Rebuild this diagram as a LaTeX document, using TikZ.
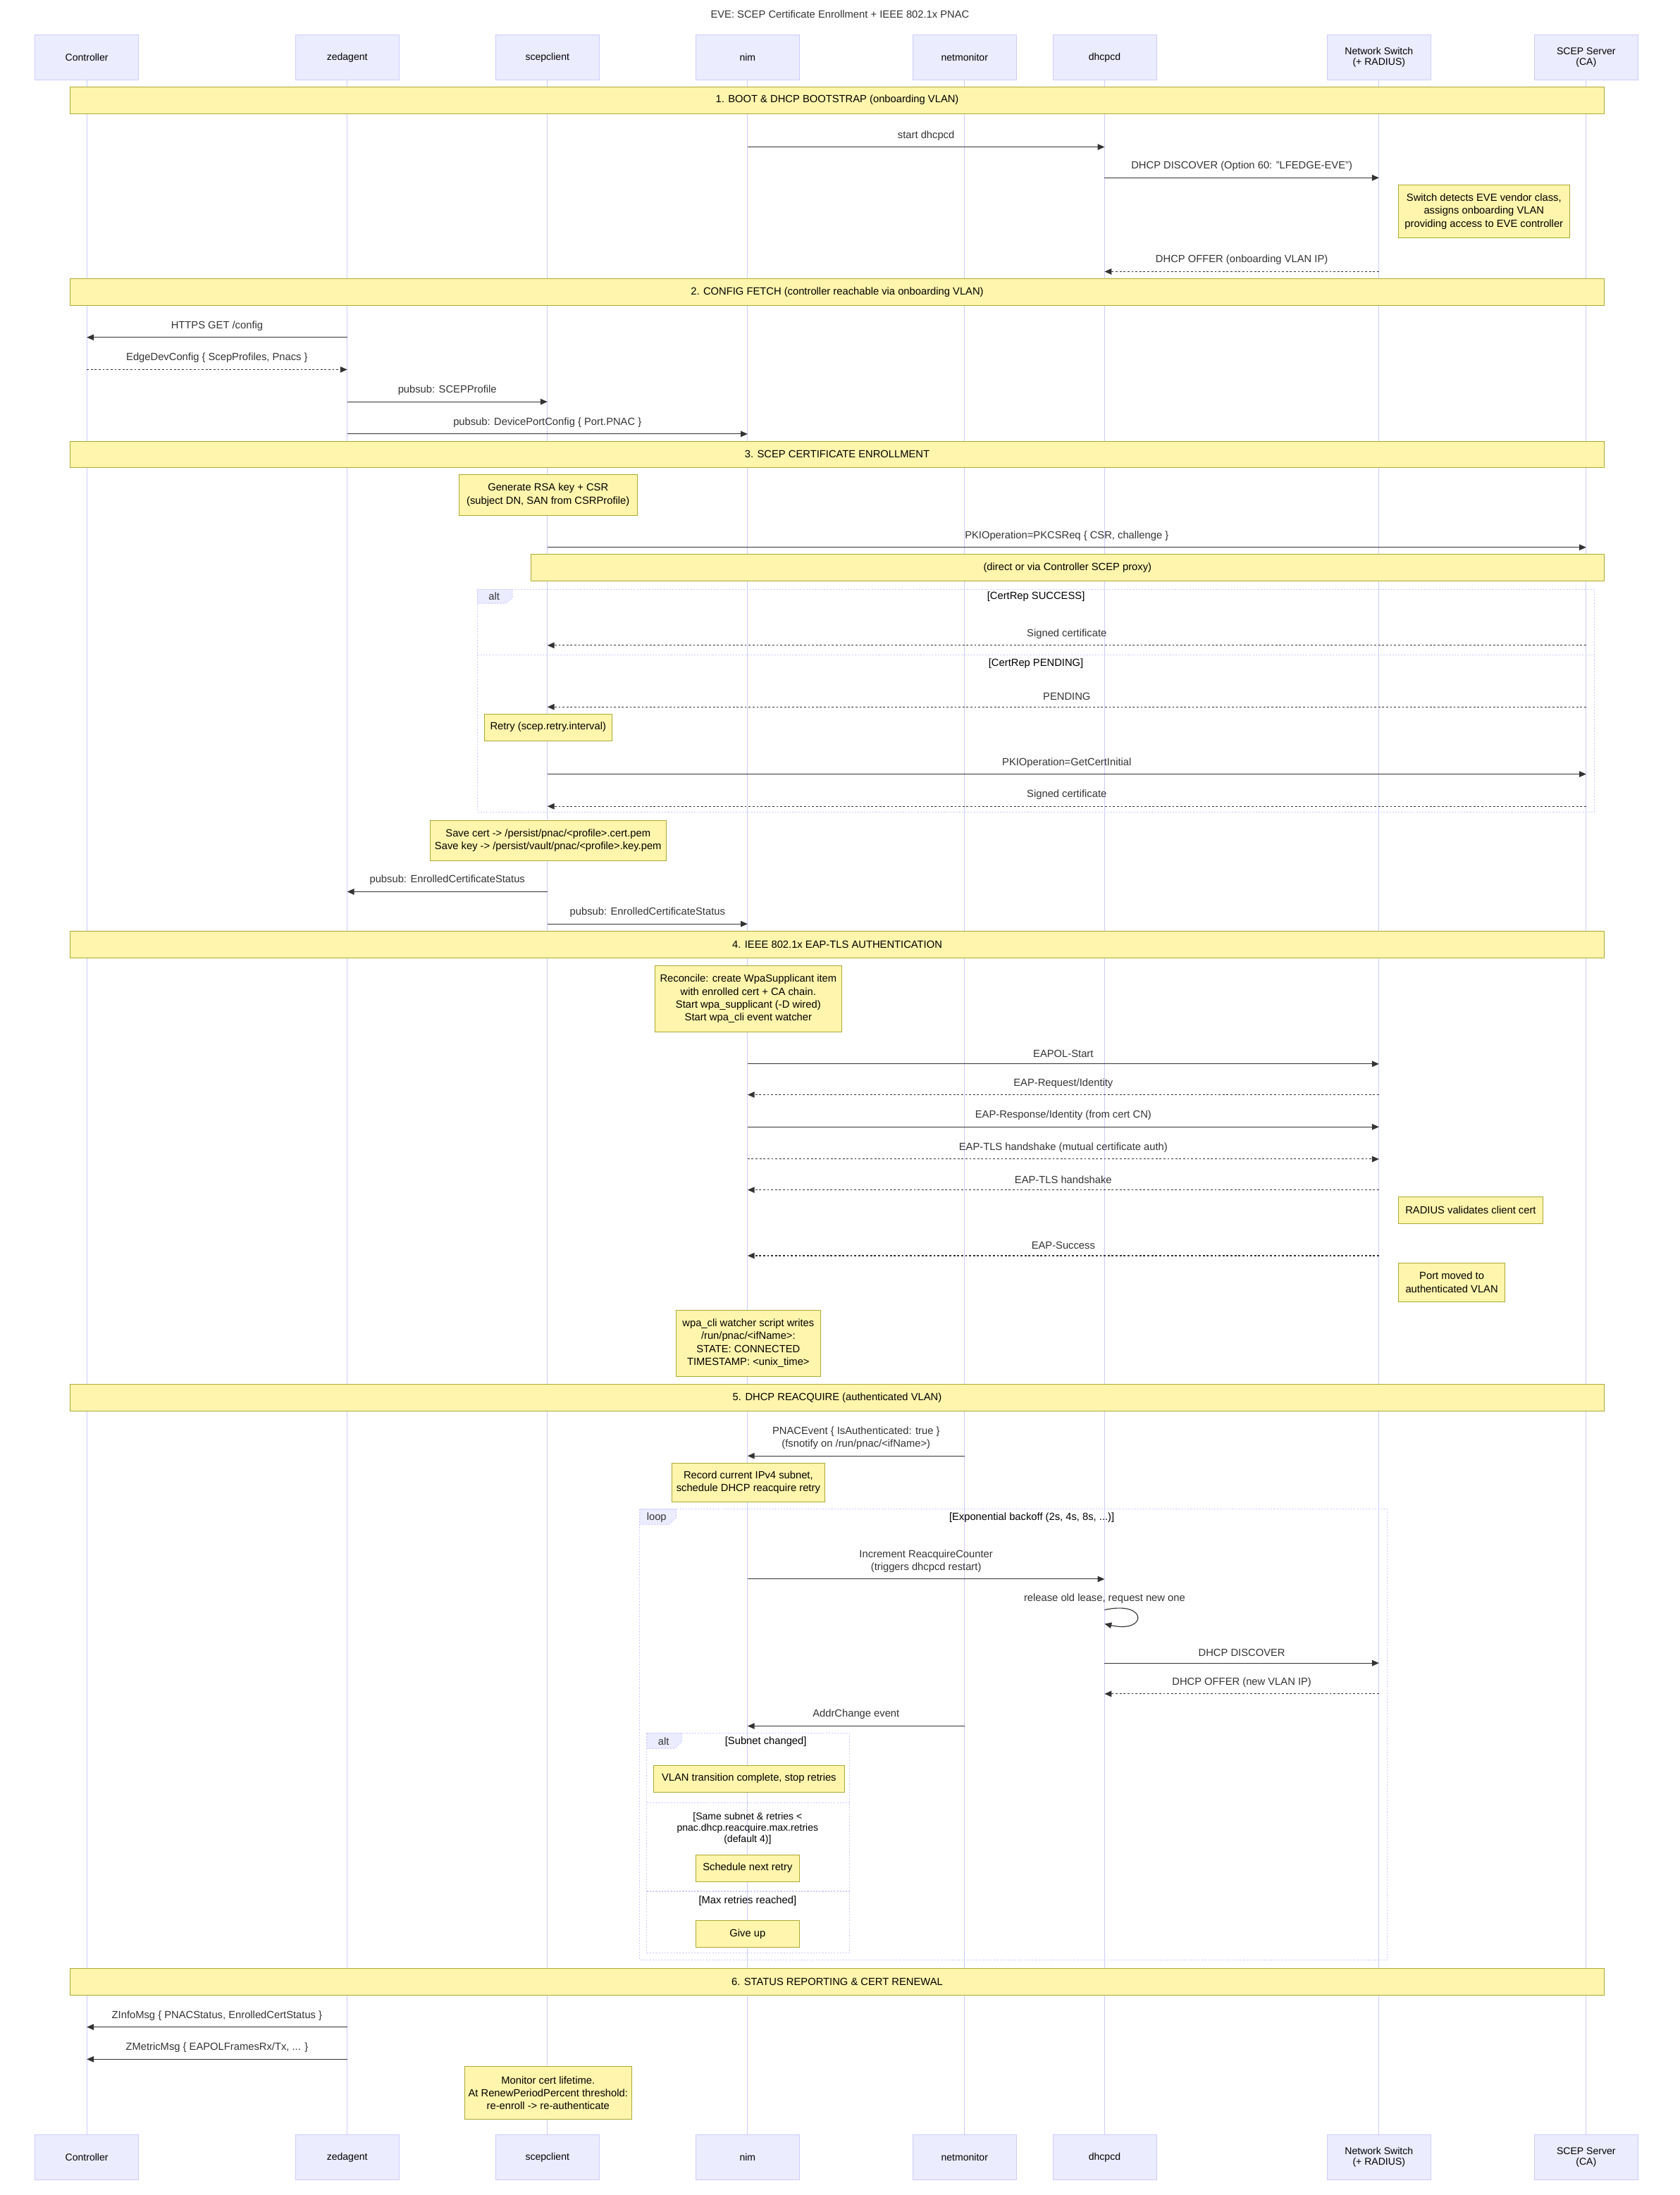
\documentclass[tikz,border=0pt]{standalone}
\usepackage{fontspec}
\setmainfont{Liberation Sans}
\usetikzlibrary{arrows.meta, fit}
\definecolor{actorfill}{HTML}{ECECFF}
\definecolor{actorline}{HTML}{CCCCFF}
\definecolor{notefill}{HTML}{FFF5AD}
\definecolor{noteline}{HTML}{AAAA33}
\definecolor{msgline}{HTML}{333333}

\begin{document}
\begin{tikzpicture}[x=0.0497cm, y=-0.0497cm,
    font=\fontsize{10.5}{13}\selectfont,
    actor/.style={draw=actorline, fill=actorfill, inner sep=0pt, align=center},
    life/.style={draw=actorline, line width=0.7pt},
    note/.style={draw=noteline, fill=notefill, inner sep=0pt},
    msg/.style={draw=msgline, line width=0.8pt, -{Triangle[length=7pt,width=6pt]}},
    reply/.style={msg, dash pattern=on 2pt off 2pt},
    frame/.style={draw=actorline, line width=0.8pt, dash pattern=on 1.5pt off 1.5pt},
    lbl/.style={text=msgline, align=center},
    ntxt/.style={align=center, text=black}]
    \useasboundingbox (0,0) rectangle (1200,1568);
    \node[lbl] (title) at (600,10) {EVE: SCEP Certificate Enrollment + IEEE 802.1x PNAC};

    % Teilnehmer oben und unten, dazu die Lebenslinien
    \foreach \n/\x/\t in {ctrl/62/Controller, zed/248/zedagent, scep/391/scepclient,
                          nim/534/nim, netmon/689/netmonitor, dhcp/789/dhcpcd,
                          sw/985/{Network Switch\\(+ RADIUS)}, ca/1133/{SCEP Server\\(CA)}} {
        \node[actor, fit={(\x-37,25) (\x+37,57)}] (\n) {};
        \node[ntxt, font=\fontsize{10}{10.5}\selectfont] at (\n.center) {\t};
        \node[actor, fit={(\x-37,1525) (\x+37,1557)}] (\n b) {};
        \node[ntxt, font=\fontsize{10}{10.5}\selectfont] at (\n b.center) {\t};
        \draw[life] (\n.south) -- (\n b.north);
    }

    % Rahmen (alt / loop)
    \draw[frame] (341,421) rectangle (1139,580);
    \draw[frame] (341,468) -- (1139,468);
    \draw[frame, fill=actorfill] (341,421) -- (366,421) -- (366,427) -- (361,431) -- (341,431) -- cycle;
    \node[lbl] (alt1) at (353,426) {alt};
    \node[ntxt] (alt1a) at (740,426) {[CertRep SUCCESS]};
    \node[ntxt] (alt1b) at (740,474) {[CertRep PENDING]};

    \draw[frame] (457,1078) rectangle (991,1400);
    \draw[frame, fill=actorfill] (457,1078) -- (483,1078) -- (483,1084) -- (478,1089) -- (457,1089) -- cycle;
    \node[lbl] (loop1) at (469,1084) {loop};
    \node[ntxt] (loop1a) at (737,1084) {[Exponential backoff (2s, 4s, 8s, ...)]};

    \draw[frame] (462,1238) rectangle (607,1395);
    \draw[frame] (462,1288) -- (607,1288);
    \draw[frame] (462,1351) -- (607,1351);
    \draw[frame, fill=actorfill] (462,1238) -- (487,1238) -- (487,1244) -- (482,1249) -- (462,1249) -- cycle;
    \node[lbl] (alt2) at (474,1244) {alt};
    \node[ntxt] (alt2a) at (547,1244) {[Subnet changed]};
    \node[ntxt, font=\fontsize{10}{11.3}\selectfont] (alt2b) at (534,1306) {[Same subnet \& retries <\\pnac.dhcp.reacquire.max.retries\\(default 4)]};
    \node[ntxt] (alt2c) at (534,1358) {[Max retries reached]};

    % Abschnitte und Notizen: Kasten, dann Text in der Mitte
    \foreach \n/\xa/\ya/\xb/\yb/\t in {
            p1/50/62/1146/81/{1. BOOT \& DHCP BOOTSTRAP (onboarding VLAN)},
            p2/50/199/1146/218/{2. CONFIG FETCH (controller reachable via onboarding VLAN)},
            p3/50/315/1146/334/{3. SCEP CERTIFICATE ENROLLMENT},
            p4/50/665/1146/684/{4. IEEE 802.1x EAP-TLS AUTHENTICATION},
            p5/50/989/1146/1008/{5. DHCP REACQUIRE (authenticated VLAN)},
            p6/50/1406/1146/1425/{6. STATUS REPORTING \& CERT RENEWAL},
            nsw1/999/132/1121/170/{Switch detects EVE vendor class,\\assigns onboarding VLAN\\providing access to EVE controller},
            ncsr/328/339/455/368/{Generate RSA key + CSR\\(subject DN, SAN from CSRProfile)},
            nproxy/379/396/1146/415/{(direct or via Controller SCEP proxy)},
            nretry/346/510/437/529/{Retry (scep.retry.interval)},
            nsave/307/586/476/615/{Save cert -> /persist/pnac/<profile>.cert.pem\\Save key -> /persist/vault/pnac/<profile>.key.pem},
            nwpa/468/690/601/737/{Reconcile: create WpaSupplicant item\\with enrolled cert + CA chain.\\Start wpa\_supplicant (-D wired)\\Start wpa\_cli event watcher},
            nradius/999/855/1102/874/{RADIUS validates client cert},
            nport/999/902/1075/930/{Port moved to\\authenticated VLAN},
            nwatch/483/936/586/983/{wpa\_cli watcher script writes\\/run/pnac/<ifName>:\\STATE: CONNECTED\\TIMESTAMP: <unix\_time>},
            nsubnet/480/1045/589/1073/{Record current IPv4 subnet,\\schedule DHCP reacquire retry},
            ndone/467/1261/603/1280/{VLAN transition complete, stop retries},
            nnext/497/1325/571/1344/{Schedule next retry},
            ngiveup/497/1372/571/1391/{Give up},
            nrenew/332/1476/451/1514/{Monitor cert lifetime.\\At RenewPeriodPercent threshold:\\re-enroll -> re-authenticate}} {
        \node[note, fit={(\xa,\ya) (\xb,\yb)}] (\n) {};
        \node[ntxt] at (\n.center) {\t};
    }

    % Nachrichten
    \foreach \s/\a/\b/\y/\t in {msg/nim/dhcp/105/{start dhcpcd},
            msg/dhcp/sw/127/{DHCP DISCOVER (Option 60: "LFEDGE-EVE")},
            reply/sw/dhcp/194/{DHCP OFFER (onboarding VLAN IP)},
            msg/zed/ctrl/241/{HTTPS GET /config},
            reply/ctrl/zed/264/{EdgeDevConfig \{ ScepProfiles, Pnacs \}},
            msg/zed/scep/287/{pubsub: SCEPProfile},
            msg/zed/nim/310/{pubsub: DevicePortConfig \{ Port.PNAC \}},
            msg/scep/ca/391/{PKIOperation=PKCSReq \{ CSR, challenge \}},
            reply/ca/scep/461/{Signed certificate},
            reply/ca/scep/505/{PENDING},
            msg/scep/ca/553/{PKIOperation=GetCertInitial},
            reply/ca/scep/576/{Signed certificate},
            msg/scep/zed/637/{pubsub: EnrolledCertificateStatus},
            msg/scep/nim/660/{pubsub: EnrolledCertificateStatus},
            msg/nim/sw/760/{EAPOL-Start},
            reply/sw/nim/782/{EAP-Request/Identity},
            msg/nim/sw/805/{EAP-Response/Identity (from cert CN)},
            reply/nim/sw/828/{EAP-TLS handshake (mutual certificate auth)},
            reply/sw/nim/850/{EAP-TLS handshake},
            reply/sw/nim/897/{EAP-Success},
            msg/netmon/nim/1040/{PNACEvent \{ IsAuthenticated: true \}\\(fsnotify on /run/pnac/<ifName>)},
            msg/nim/dhcp/1128/{Increment ReacquireCounter\\(triggers dhcpcd restart)},
            msg/dhcp/sw/1188/{DHCP DISCOVER},
            reply/sw/dhcp/1210/{DHCP OFFER (new VLAN IP)},
            msg/netmon/nim/1233/{AddrChange event},
            msg/zed/ctrl/1448/{ZInfoMsg \{ PNACStatus, EnrolledCertStatus \}},
            msg/zed/ctrl/1471/{ZMetricMsg \{ EAPOLFramesRx/Tx, ... \}}}
        \draw[\s] (\a |- 0,\y) -- node[lbl, above=3pt] {\t} (\b |- 0,\y);

    % Schleife an dhcpcd
    \draw[msg] (dhcp |- 0,1150) .. controls (820,1143) and (820,1167) .. (dhcp |- 0,1160);
    \node[lbl] (relabel) at (789,1142) {release old lease, request new one};
\end{tikzpicture}
\end{document}
